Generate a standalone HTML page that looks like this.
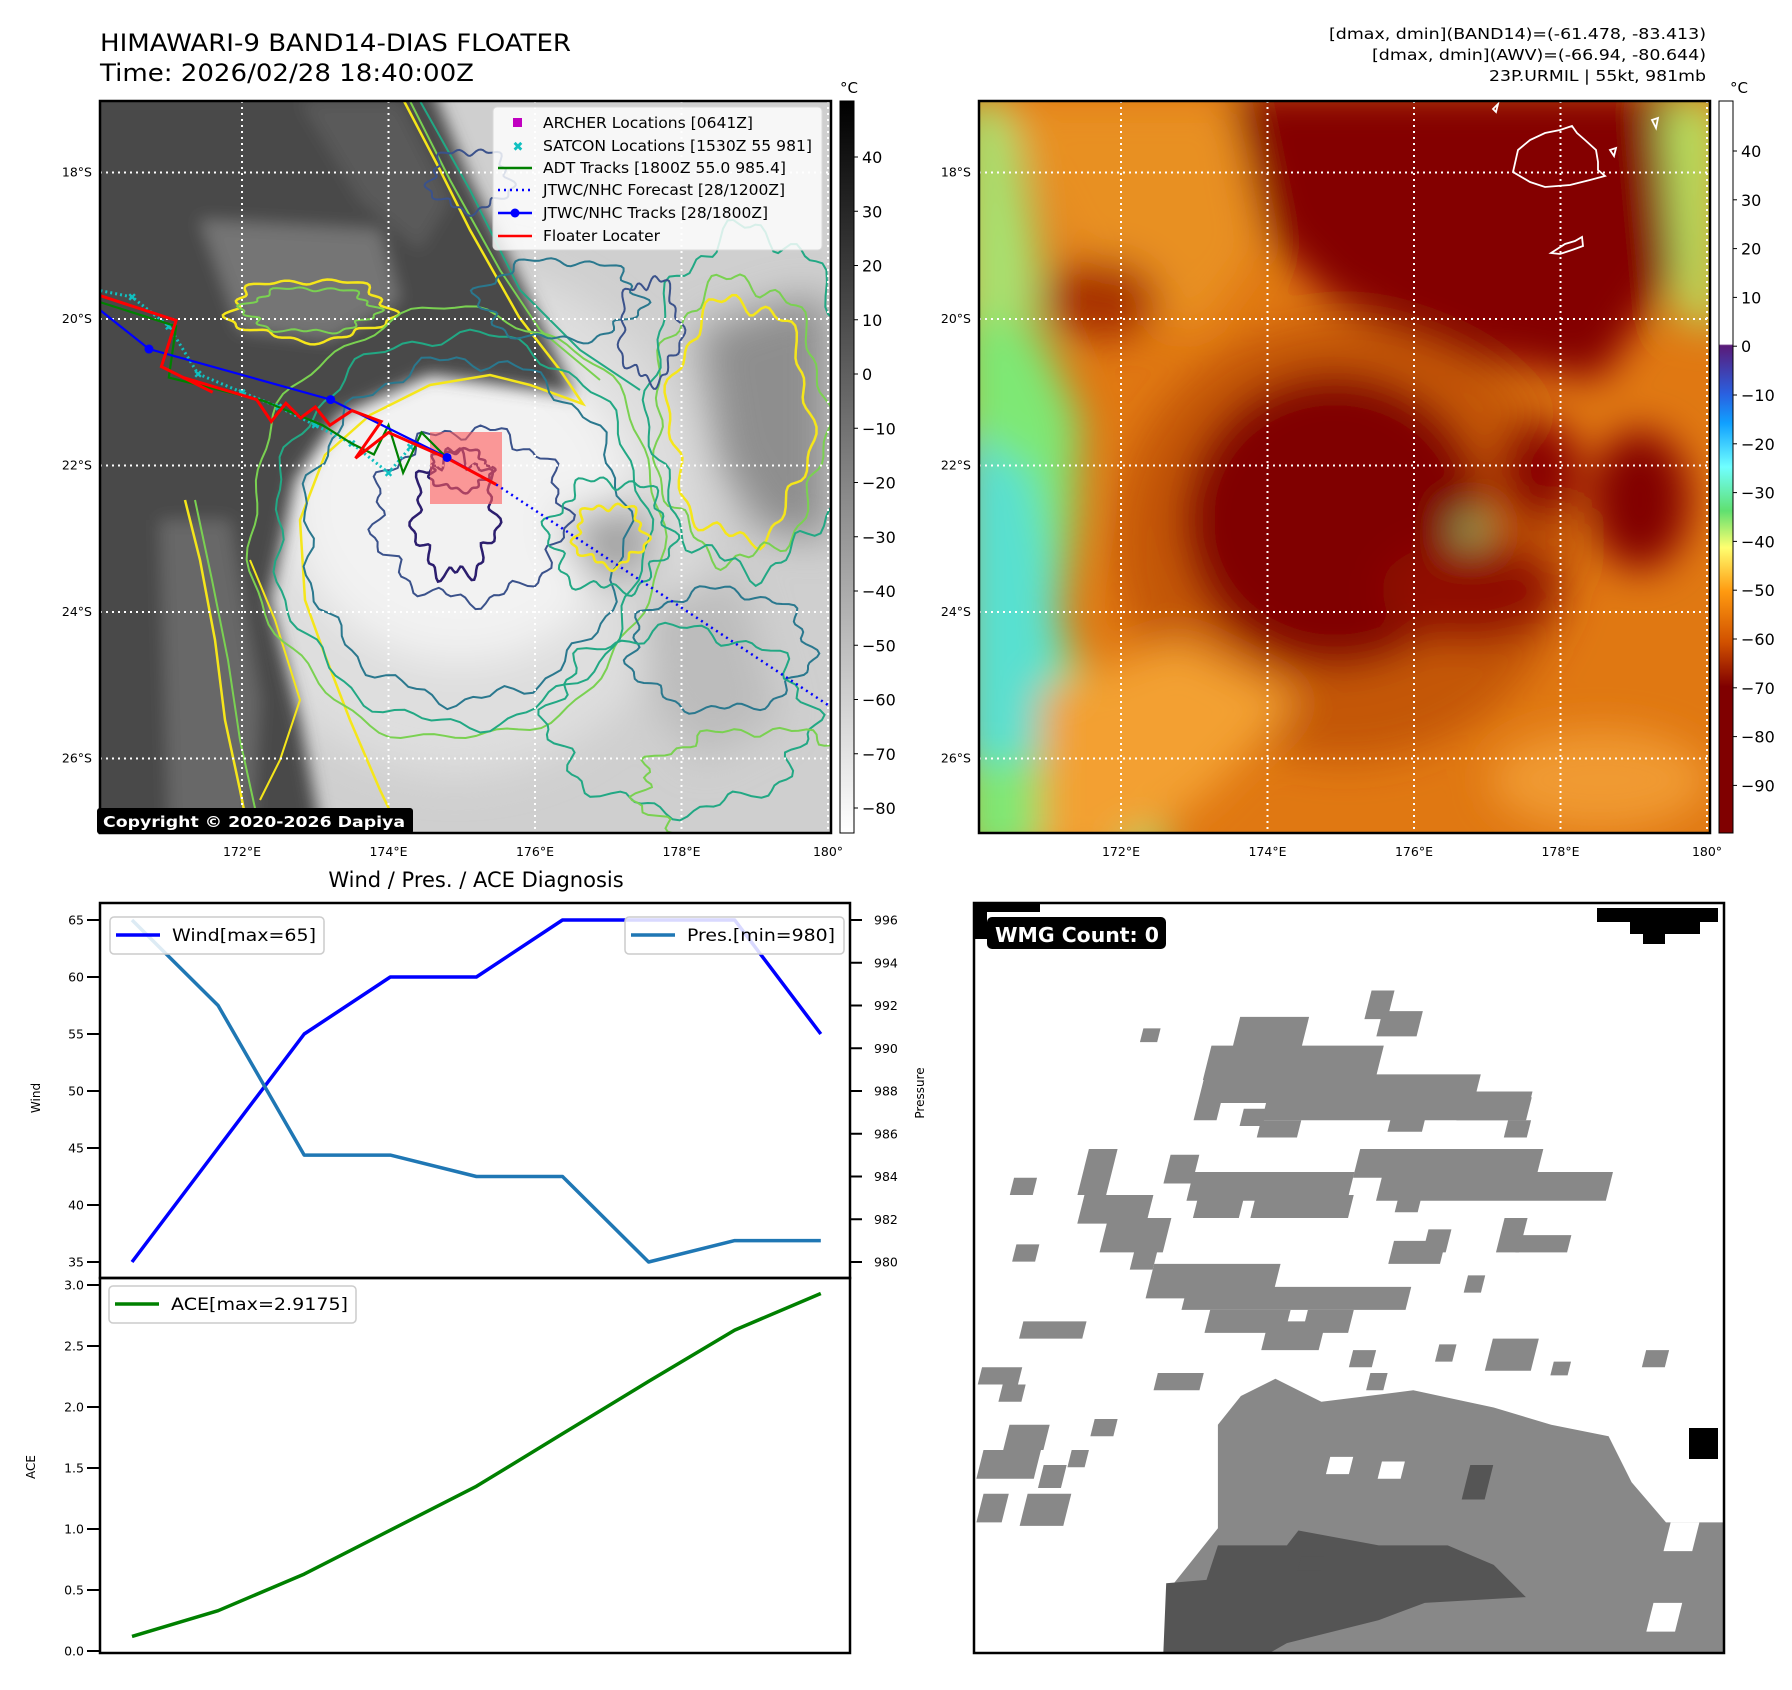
<!DOCTYPE html>
<html><head><meta charset="utf-8"><title>HIMAWARI-9 BAND14-DIAS FLOATER</title>
<style>
html,body{margin:0;padding:0;background:#fff;}
svg{display:block;font-family:"DejaVu Sans","Liberation Sans",sans-serif;}
</style></head>
<body>
<svg id="fig" xmlns="http://www.w3.org/2000/svg" width="1792" height="1690" viewBox="0 0 1792 1690">
<defs>
  <filter id="blur8" x="-20%" y="-20%" width="140%" height="140%"><feGaussianBlur stdDeviation="8"/></filter>
  <filter id="blur20" x="-30%" y="-30%" width="160%" height="160%"><feGaussianBlur stdDeviation="20"/></filter>
  <filter id="blur3"><feGaussianBlur stdDeviation="3"/></filter>
  <clipPath id="clipL"><rect x="100" y="101" width="731" height="732"/></clipPath>
  <clipPath id="clipR"><rect x="979" y="101" width="731" height="732"/></clipPath>
  <clipPath id="clipW"><rect x="974" y="903" width="750" height="750"/></clipPath>
  <linearGradient id="cbGray" x1="0" y1="0" x2="0" y2="1">
    <stop offset="0" stop-color="#000"/><stop offset="1" stop-color="#fff"/>
  </linearGradient>
  <linearGradient id="cbRight" x1="0" y1="0" x2="0" y2="1">
    <stop offset="0" stop-color="#fff"/><stop offset="0.332" stop-color="#fff"/>
    <stop offset="0.334" stop-color="#5a1a78"/><stop offset="0.40" stop-color="#2a60e0"/>
    <stop offset="0.44" stop-color="#10a0ff"/><stop offset="0.50" stop-color="#70ffff"/>
    <stop offset="0.56" stop-color="#60e070"/><stop offset="0.61" stop-color="#ffff70"/>
    <stop offset="0.67" stop-color="#ff9a10"/><stop offset="0.74" stop-color="#d05000"/>
    <stop offset="0.80" stop-color="#800000"/><stop offset="1" stop-color="#800000"/>
  </linearGradient>
</defs>

<!-- Titles -->
<text x="100" y="51" font-size="24" textLength="471" lengthAdjust="spacingAndGlyphs">HIMAWARI-9 BAND14-DIAS FLOATER</text>
<text x="100" y="81" font-size="24" textLength="374" lengthAdjust="spacingAndGlyphs">Time: 2026/02/28 18:40:00Z</text>
<g font-size="15.5" text-anchor="end">
  <text x="1706" y="39" textLength="377" lengthAdjust="spacingAndGlyphs">[dmax, dmin](BAND14)=(-61.478, -83.413)</text>
  <text x="1706" y="60" textLength="334" lengthAdjust="spacingAndGlyphs">[dmax, dmin](AWV)=(-66.94, -80.644)</text>
  <text x="1706" y="81" textLength="217" lengthAdjust="spacingAndGlyphs">23P.URMIL | 55kt, 981mb</text>
</g>

<!-- LEFT MAP -->
<g id="mapL" clip-path="url(#clipL)">
  <rect x="100" y="101" width="731" height="732" fill="#cfcfcf"/>
  <g filter="url(#blur20)">
    <ellipse cx="455" cy="520" rx="245" ry="255" fill="#dedede"/>
    <ellipse cx="460" cy="500" rx="170" ry="160" fill="#f2f2f2"/>
    <polygon points="700,330 790,300 830,300 830,540 760,530 720,460" fill="#8e8e8e"/>
    <polygon points="560,520 640,500 660,560 600,590" fill="#a0a0a0"/>
    <polygon points="640,600 740,580 780,720 700,760 650,700" fill="#bcbcbc"/>
  </g>
  <g filter="url(#blur8)">
    <polygon points="60,60 420,60 470,180 530,300 575,395 430,375 340,415 295,480 270,600 300,720 330,880 60,880" fill="#4a4a4a"/>
    <polygon points="200,220 380,230 400,300 330,340 240,330" fill="#757575"/>
    <polygon points="160,520 230,520 260,700 250,860 170,860" fill="#686868"/>
    <polygon points="300,101 400,101 450,200 420,250 360,200" fill="#5a5a5a"/>
  </g>
  <g id="contoursL" fill="none" stroke-width="2"></g>
  <g id="gridL"></g>
  <rect x="430" y="432" width="72" height="72" fill="#ff5a5a" fill-opacity="0.6"/>
  <g id="tracksL"></g>
</g>
<rect x="100" y="101" width="731" height="732" fill="none" stroke="#000" stroke-width="2.5"/>
<g>
  <rect x="97" y="808" width="316" height="26" rx="3" fill="#000"/>
  <text x="103" y="827" font-size="15.5" font-weight="bold" fill="#fff" textLength="302" lengthAdjust="spacingAndGlyphs">Copyright © 2020-2026 Dapiya</text>
</g>
<!-- map legend -->
<g>
  <rect x="493" y="107" width="329" height="143" rx="4" fill="#fff" fill-opacity="0.82" stroke="#d8d8d8"/>
  <rect x="513" y="118" width="9" height="9" fill="#c000c0"/>
  <text x="518" y="151" font-size="13" font-weight="bold" fill="#10c0c0" text-anchor="middle">✖</text>
  <line x1="498" y1="168" x2="532" y2="168" stroke="#008000" stroke-width="2.5"/>
  <line x1="498" y1="190" x2="532" y2="190" stroke="#0000ff" stroke-width="2.5" stroke-dasharray="2,4"/>
  <line x1="498" y1="213" x2="532" y2="213" stroke="#0000ff" stroke-width="2.5"/>
  <circle cx="515" cy="213" r="4.5" fill="#0000ff"/>
  <line x1="498" y1="236" x2="532" y2="236" stroke="#ff0000" stroke-width="2.5"/>
  <g font-size="15" fill="#000">
    <text x="543" y="128" textLength="210" lengthAdjust="spacingAndGlyphs">ARCHER Locations [0641Z]</text>
    <text x="543" y="151" textLength="269" lengthAdjust="spacingAndGlyphs">SATCON Locations [1530Z 55 981]</text>
    <text x="543" y="173" textLength="243" lengthAdjust="spacingAndGlyphs">ADT Tracks [1800Z 55.0 985.4]</text>
    <text x="543" y="195" textLength="242" lengthAdjust="spacingAndGlyphs">JTWC/NHC Forecast [28/1200Z]</text>
    <text x="543" y="218" textLength="225" lengthAdjust="spacingAndGlyphs">JTWC/NHC Tracks [28/1800Z]</text>
    <text x="543" y="241" textLength="117" lengthAdjust="spacingAndGlyphs">Floater Locater</text>
  </g>
</g>
<!-- left colorbar -->
<g>
  <rect x="840" y="101" width="14" height="732" fill="url(#cbGray)" stroke="#000" stroke-width="1"/>
  <text x="849" y="93" font-size="15" text-anchor="middle">°C</text>
  <g id="cbLticks" font-size="16"></g>
</g>

<!-- RIGHT MAP -->
<g id="mapR" clip-path="url(#clipR)">
  <rect x="979" y="101" width="731" height="732" fill="#e07812"/>
  <g filter="url(#blur20)">
    <polygon points="960,300 1040,330 1080,420 1075,520 1060,620 1090,700 1140,760 1170,860 960,860" fill="#7ee874"/>
    <polygon points="960,101 1010,101 1040,250 1040,320 960,320" fill="#a8e070"/>
    <polygon points="960,430 1030,470 1050,560 1060,680 1050,760 960,760" fill="#58e0d0"/>
    <polygon points="1000,101 1230,101 1260,250 1200,330 1120,320 1060,230" fill="#e89020"/>
    <polygon points="1230,90 1690,90 1690,250 1600,380 1480,360 1400,330 1330,300 1270,240" fill="#840000"/>
    <ellipse cx="1345" cy="540" rx="230" ry="220" fill="#b04000" fill-opacity="0.6"/>
    <ellipse cx="1335" cy="520" rx="150" ry="145" fill="#800000"/>
    <polygon points="1660,101 1720,101 1720,330 1680,320" fill="#b8e060"/>
    <ellipse cx="1640" cy="500" rx="50" ry="70" fill="#820000"/>
    <ellipse cx="1540" cy="470" rx="40" ry="50" fill="#880000"/>
    <ellipse cx="1470" cy="590" rx="90" ry="50" fill="#900800"/>
    <polygon points="1040,690 1180,640 1300,700 1200,800 1100,860 1040,860" fill="#f3a030"/>
    <ellipse cx="1470" cy="530" rx="12" ry="12" fill="#90ee80"/>
    <ellipse cx="1600" cy="780" rx="110" ry="50" fill="#f09a30"/>
    <ellipse cx="1100" cy="300" rx="60" ry="40" fill="#a83000"/>
  </g>
  <g fill="none" stroke="#fff" stroke-width="1.8">
    <path d="M1513,172 L1518,150 L1530,140 L1545,133 L1560,130 L1572,126 L1577,133 L1585,140 L1596,150 L1598,162 L1598,170 L1605,176 L1590,180 L1578,183 L1570,185 L1545,187 L1530,182 Z"/>
    <path d="M1551,253 L1565,244 L1575,241 L1582,237 L1583,246 L1572,250 L1560,254 Z"/>
    <path d="M1493,109 L1498,104 L1496,112 Z"/>
    <path d="M1652,120 L1658,118 L1656,128 Z"/>
    <path d="M1610,150 L1616,148 L1614,156 Z"/>
  </g>
  <g id="gridR"></g>
</g>
<rect x="979" y="101" width="731" height="732" fill="none" stroke="#000" stroke-width="2.5"/>
<g>
  <rect x="1719" y="101" width="14" height="732" fill="url(#cbRight)" stroke="#000" stroke-width="1"/>
  <text x="1739" y="93" font-size="15" text-anchor="middle">°C</text>
  <g id="cbRticks" font-size="16"></g>
</g>
<g id="mapLabels" font-size="12.5"></g>

<!-- CHART -->
<text x="476" y="887" font-size="21" text-anchor="middle">Wind / Pres. / ACE Diagnosis</text>
<g id="chart"></g>

<!-- WMG -->
<g>
  <g id="wmg" clip-path="url(#clipW)"><rect x="974" y="903" width="750" height="750" fill="#fff"/></g>
  <rect x="974" y="903" width="750" height="750" fill="none" stroke="#000" stroke-width="2.5"/>
  <g>
    <rect x="987" y="917" width="179" height="32" rx="5" fill="#000"/>
    <text x="995" y="942" font-size="20" font-weight="bold" fill="#fff" textLength="164" lengthAdjust="spacingAndGlyphs">WMG Count: 0</text>
  </g>
</g>

<script>
// ---------- chart data ----------
const categories = [0, 1, 2, 3, 4, 5, 6, 7, 8];
const windVals = [35, 45, 55, 60, 60, 65, 65, 65, 55];
const presVals = [996, 992, 985, 985, 984, 984, 980, 981, 981];
const aceVals = [0.12, 0.33, 0.63, 0.99, 1.35, 1.78, 2.21, 2.63, 2.93];
const windTicks = [35, 40, 45, 50, 55, 60, 65];
const presTicks = [980, 982, 984, 986, 988, 990, 992, 994, 996];
const aceTicks = [0.0, 0.5, 1.0, 1.5, 2.0, 2.5, 3.0];
const latTicks = [18, 20, 22, 24, 26];
const lonTicks = [172, 174, 176, 178, 180];
const cbLTicks = [40, 30, 20, 10, 0, -10, -20, -30, -40, -50, -60, -70, -80];
const cbRTicks = [40, 30, 20, 10, 0, -10, -20, -30, -40, -50, -60, -70, -80, -90];
// storm tracks (lon E, lat S)
const jtwcTrack = [[170.0, 19.83], [170.73, 20.41], [173.21, 21.10], [174.80, 21.89], [175.47, 22.26]];
const forecastTrack = [[175.47, 22.26], [180.0, 25.27]];
const floaterTrack = [[170.0, 19.66], [171.1, 20.02], [170.9, 20.65], [171.6, 21.0], [171.2, 20.8], [172.2, 21.1], [172.4, 21.4], [172.6, 21.15], [172.8, 21.35], [173.0, 21.2], [173.2, 21.45], [173.5, 21.25], [173.9, 21.4], [173.55, 21.9], [174.0, 21.55], [174.8, 21.9], [175.47, 22.26]];
const adtTrack = [[170.0, 19.75], [171.1, 20.1], [171.0, 20.8], [172.3, 21.12], [173.1, 21.45], [173.5, 21.7], [173.8, 21.85], [174.0, 21.45], [174.2, 22.1], [174.45, 21.55], [174.8, 21.9]];
const satconPts = [[170.0, 19.6], [170.5, 19.7], [171.0, 20.1], [171.4, 20.75], [172.0, 21.0], [172.5, 21.2], [173.0, 21.45], [173.5, 21.7], [174.0, 22.1], [174.3, 21.75]];

const NS = 'http://www.w3.org/2000/svg';
function mk(tag, attrs, parent) {
  const e = document.createElementNS(NS, tag);
  for (const k in attrs) e.setAttribute(k, attrs[k]);
  if (parent) parent.appendChild(e);
  return e;
}
function lonX(lon, off) { return 242 + (lon - 172) * 73.25 + (off || 0); }
function latY(lat) { return 172.5 + (lat - 18) * 73.25; }

[['gridL', 0], ['gridR', 879]].forEach(([id, off]) => {
  const g = document.getElementById(id);
  latTicks.forEach(t => {
    const l = mk('line', {x1: 100 + off, x2: 831 + off, y1: latY(t), y2: latY(t), stroke: '#fff', 'stroke-width': 2, 'stroke-dasharray': '2,4'}, g);
    
    
  });
  lonTicks.forEach(t => {
    const l = mk('line', {x1: lonX(t, off), x2: lonX(t, off), y1: 101, y2: 833, stroke: '#fff', 'stroke-width': 2, 'stroke-dasharray': '2,4'}, g);
    
    
  });
});
const ml = document.getElementById('mapLabels');
[0, 879].forEach(off => {
  latTicks.forEach(t => {
    const tx = mk('text', {x: 92 + off, y: latY(t) + 4, 'text-anchor': 'end'}, ml);
    tx.textContent = t + '°S';
    
    
  });
  lonTicks.forEach(t => {
    const tx = mk('text', {x: lonX(t, off), y: 856, 'text-anchor': 'middle'}, ml);
    tx.textContent = t === 180 ? '180°' : t + '°E';
    
    
  });
});
function cbTicks(id, vals, x, y0, v0, pxPer10) {
  const g = document.getElementById(id);
  vals.forEach(v => {
    const y = y0 + (v0 - v) / 10 * pxPer10;
    mk('line', {x1: x, x2: x + 4, y1: y, y2: y, stroke: '#000', 'stroke-width': 1}, g);
    const tx = mk('text', {x: x + 8, y: y + 6}, g);
    tx.textContent = v < 0 ? '\u2212' + (-v) : String(v);
    
    
  });
}
cbTicks('cbLticks', cbLTicks, 854, 157, 40, 54.25);
cbTicks('cbRticks', cbRTicks, 1733, 151, 40, 48.8);

const cg = document.getElementById('contoursL');
function blob(cx, cy, rx, ry, amp, f1, ph, color, w) {
  let d = '';
  for (let i = 0; i <= 120; i++) {
    const a = i / 120 * Math.PI * 2;
    const r = 1 + amp * (Math.sin(a * f1 + ph) * 0.6 + Math.sin(a * (f1 * 2 + 3) + ph * 1.7) * 0.4);
    const x = cx + Math.cos(a) * rx * r, y = cy + Math.sin(a) * ry * r;
    d += (i ? 'L' : 'M') + x.toFixed(1) + ',' + y.toFixed(1);
  }
  const p = mk('path', {d: d + 'Z', stroke: color, 'stroke-width': w || 2}, cg);
  
  
}
function line(pts, color, w) {
  const p = mk('path', {d: 'M' + pts.map(q => q.join(',')).join('L'), stroke: color, 'stroke-width': w || 2}, cg);
  
  
}
line([[404,101],[440,170],[470,230],[519,317],[560,370],[583,404],[530,385],[490,375],[430,385],[370,415],[325,455],[300,520],[305,600],[323,650],[350,720],[380,790],[404,840]], '#f5e61a', 2.5);
line([[410,101],[450,180],[500,270],[540,330],[600,380]], '#7ad151', 2);
line([[420,101],[470,190],[520,290],[580,350],[640,390]], '#22a884', 2);
line([[185,500],[200,560],[215,640],[225,720],[240,790],[250,840]], '#f5e61a', 2.5);
line([[195,500],[212,580],[228,660],[240,740],[262,840]], '#7ad151', 2);
line([[260,800],[280,760],[300,700],[275,620],[250,560]], '#f5e61a', 2);
blob(310, 310, 80, 30, 0.15, 5, 0.3, '#f5e61a', 2.5);
blob(310, 310, 65, 22, 0.15, 6, 1.1, '#7ad151', 2);
blob(455, 525, 205, 215, 0.04, 7, 0.5, '#7ad151', 2);
blob(460, 530, 185, 195, 0.05, 9, 1.5, '#22a884', 2);
blob(465, 530, 160, 170, 0.06, 11, 2.1, '#2a788e', 2);
blob(470, 515, 95, 85, 0.12, 9, 0.9, '#3b528b', 2);
blob(455, 515, 40, 60, 0.2, 7, 0.2, '#2c1e6e', 2.5);
blob(460, 470, 30, 20, 0.2, 5, 1.2, '#2c1e6e', 2.5);
blob(740, 420, 70, 120, 0.12, 6, 0.4, '#f5e61a', 2.5);
blob(740, 420, 85, 140, 0.1, 7, 1.4, '#7ad151', 2);
blob(750, 400, 100, 170, 0.1, 8, 2.4, '#22a884', 2);
blob(610, 535, 35, 30, 0.2, 5, 0.4, '#f5e61a', 2.5);
blob(610, 535, 60, 55, 0.18, 6, 0.8, '#22a884', 2);
blob(720, 650, 90, 60, 0.12, 7, 0.6, '#2a788e', 2);
blob(680, 720, 130, 90, 0.12, 8, 1.6, '#22a884', 2);
blob(470, 180, 40, 30, 0.2, 5, 0.1, '#3b528b', 2);
blob(560, 300, 80, 40, 0.15, 6, 0.7, '#2a788e', 2);
blob(650, 330, 30, 50, 0.2, 5, 1.0, '#3b528b', 2);
blob(760, 790, 120, 60, 0.12, 9, 0.3, '#7ad151', 2);

const tg = document.getElementById('tracksL');
function trackPath(pts, attrs, name) {
  const d = 'M' + pts.map(p => lonX(p[0]).toFixed(1) + ',' + latY(p[1]).toFixed(1)).join('L');
  const a = Object.assign({d: d, fill: 'none'}, attrs);
  const p = mk('path', a, tg);
  
  
}
satconPts.forEach(p => {
  const t = mk('text', {x: lonX(p[0]), y: latY(p[1]) + 4, 'font-size': 11, 'font-weight': 'bold', fill: '#10c0c0', 'text-anchor': 'middle'}, tg);
  t.textContent = '✖';
  
  
});
trackPath(satconPts, {stroke: '#10c0c0', 'stroke-width': 3, 'stroke-dasharray': '2,3'}, 'satcon-track');
trackPath(adtTrack, {stroke: '#008000', 'stroke-width': 2.2}, 'adt-track');
trackPath(jtwcTrack, {stroke: '#0000ff', 'stroke-width': 2.2}, 'jtwc-track');
trackPath(floaterTrack, {stroke: '#ff0000', 'stroke-width': 3}, 'floater-track');
trackPath(forecastTrack, {stroke: '#0000ff', 'stroke-width': 2.5, 'stroke-dasharray': '2,4'}, 'jtwc-forecast');
jtwcTrack.slice(1, 4).forEach(p => {
  const c = mk('circle', {cx: lonX(p[0]), cy: latY(p[1]), r: 4.5, fill: '#0000ff'}, tg);
  
  
});

// ---------- chart ----------
const ch = document.getElementById('chart');
const X0 = 132, XSTEP = 86.1;
function xPos(i) { return X0 + i * XSTEP; }
function yWind(v) { return 920 + (65 - v) * 11.4; }
function yPres(v) { return 920 + (996 - v) * 21.375; }
function yAce(v) { return 1651 - v * 122; }
function axisTicks(vals, fy, xTick, right, fmt) {
  vals.forEach(v => {
    const y = fy(v);
    mk('line', {x1: right ? xTick : xTick - 12, x2: right ? xTick + 12 : xTick, y1: y, y2: y, stroke: '#000', 'stroke-width': 2}, ch);
    const t = mk('text', {x: right ? xTick + 24 : xTick - 15, y: y + 4.5, 'font-size': 12.5, 'text-anchor': right ? 'start' : 'end'}, ch);
    t.textContent = fmt(v);
    
    
  });
}
axisTicks(windTicks, yWind, 99, false, v => String(v));
axisTicks(presTicks, yPres, 850, true, v => String(v));
axisTicks(aceTicks, yAce, 99, false, v => v.toFixed(1));
function series(vals, fy, color, name) {
  const d = 'M' + vals.map((v, i) => xPos(categories[i]).toFixed(1) + ',' + fy(v).toFixed(1)).join('L');
  const p = mk('path', {d: d, fill: 'none', stroke: color, 'stroke-width': 3.5, 'stroke-linejoin': 'round'}, ch);
  
  
}
series(windVals, yWind, '#0000ff', 'wind-line');
series(presVals, yPres, '#1f77b4', 'pressure-line');
series(aceVals, yAce, '#008000', 'ace-line');
mk('rect', {x: 100, y: 903, width: 750, height: 375, fill: 'none', stroke: '#000', 'stroke-width': 2.5}, ch);
mk('rect', {x: 100, y: 1278, width: 750, height: 375, fill: 'none', stroke: '#000', 'stroke-width': 2.5}, ch);
function label(txt, x, y, rot, name) {
  const t = mk('text', {x: x, y: y, 'font-size': 12, 'text-anchor': 'middle', transform: 'rotate(' + rot + ' ' + x + ' ' + y + ')'}, ch);
  t.textContent = txt;
  
  
}
label('Wind', 40, 1098, -90, 'wind-axis-title');
label('ACE', 35, 1467, -90, 'ace-axis-title');
label('Pressure', 924, 1093, -90, 'pressure-axis-title');
function legend(x, y, w, color, txt, tl, name) {
  const g = mk('g', {}, ch);
  
  
  mk('rect', {x: x, y: y, width: w, height: 37, rx: 4, fill: '#fff', 'fill-opacity': 0.85, stroke: '#cccccc', 'stroke-width': 1.5}, g);
  mk('line', {x1: x + 6, x2: x + 50, y1: y + 18, y2: y + 18, stroke: color, 'stroke-width': 3.5}, g);
  const t = mk('text', {x: x + 62, y: y + 24, 'font-size': 17, textLength: tl, lengthAdjust: 'spacingAndGlyphs'}, g);
  t.textContent = txt;
}
legend(110, 917, 214, '#0000ff', 'Wind[max=65]', 144, 'wind-legend');
legend(625, 917, 219, '#1f77b4', 'Pres.[min=980]', 148, 'pressure-legend');
legend(109, 1286, 247, '#008000', 'ACE[max=2.9175]', 177, 'ace-legend');

// ---------- WMG ----------
const wg = document.getElementById('wmg');
const S = 1.149;
function wrect(r, fill) {
  const e = mk('rect', {x: r[0] * S, y: r[1] * S, width: r[2] * S, height: r[3] * S, fill: fill}, wg);
  e.setAttribute('transform', 'translate(' + (r[1] + r[3] / 2) * S * 0.25 + ',0) skewX(-14)');
  
  
}
function wpoly(pts, fill) {
  const e = mk('polygon', {points: pts.map(p => (p[0] * S).toFixed(1) + ',' + (p[1] * S).toFixed(1)).join(' '), fill: fill}, wg);
  
  
}
wpoly([[1020,1380],[1060,1330],[1060,1240],[1080,1215],[1110,1200],[1150,1220],[1230,1210],[1300,1225],[1350,1240],[1400,1250],[1420,1290],[1450,1325],[1512,1325],[1512,1450],[1015,1450]], '#888888');
wpoly([[1012,1450],[1015,1378],[1050,1375],[1060,1345],[1120,1345],[1130,1332],[1200,1345],[1260,1345],[1300,1362],[1328,1390],[1240,1395],[1200,1410],[1120,1430],[1085,1450]], '#555555');
const grayCells = [[1190,862,20,25],[1200,880,35,22],[993,895,15,12],[1075,885,60,30],[1050,910,150,30],[1045,935,240,25],[1100,955,230,20],[1040,960,20,15],[1080,965,20,15],[1095,975,35,15],[1210,960,30,25],[1270,950,60,25],[1310,975,20,15],
[942,1000,25,40],[1015,1005,25,25],[1035,1020,140,25],[1040,1040,40,20],[1090,1040,85,20],[1180,1000,130,25],[1200,1020,200,25],[1300,1000,40,20],[1215,1040,20,15],
[940,1040,60,25],[960,1060,55,30],[985,1085,20,20],[1000,1100,110,30],[1030,1120,195,20],[1050,1140,70,20],[1100,1150,50,25],[1210,1080,45,20],[1240,1070,20,20],[1305,1060,20,30],[1320,1075,45,15],[1275,1110,15,15],
[880,1025,20,15],[882,1083,20,15],[888,1150,55,15],[852,1190,35,15],[870,1205,20,15],[1005,1195,40,15],[1135,1140,40,20],[1175,1175,20,15],[1190,1195,15,15],[1295,1165,40,28],[1350,1185,15,12],[1430,1175,20,15],[1250,1170,15,15],
[852,1262,50,25],[875,1240,35,22],[852,1300,22,25],[890,1300,38,28],[905,1275,20,20],[930,1262,15,15],[950,1235,20,15]];
grayCells.forEach(r => wrect(r, '#888888'));
[[1450,1325,25,25],[1435,1395,25,25],[1155,1268,20,15],[1200,1272,20,15]].forEach(r => wrect(r, '#ffffff'));
[[1275,1275,20,30],[1130,1355,20,12]].forEach(r => wrect(r, '#555555'));
[[1597,908,121,14],[1630,920,70,14],[1643,932,22,12],[1723,988,10,35],[1689,1428,29,31],[974,903,66,9],[974,903,13,36]].forEach(r => {
  const e = mk('rect', {x: r[0], y: r[1], width: r[2], height: r[3], fill: '#000'}, wg);
  
  
});
</script>
</svg>
</body></html>
